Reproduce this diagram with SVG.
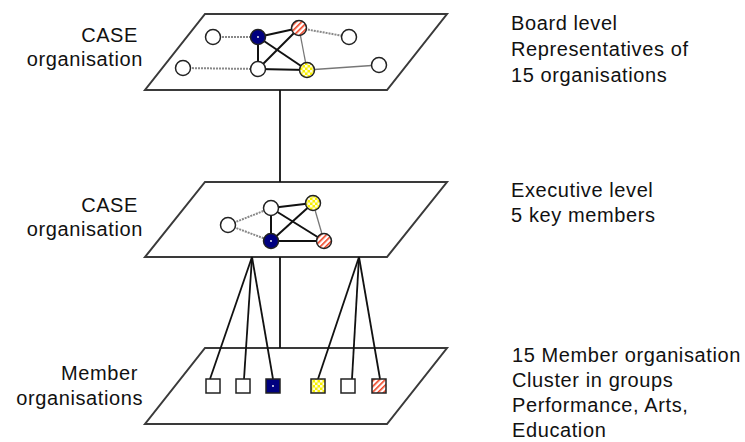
<svg xmlns="http://www.w3.org/2000/svg" width="745" height="442" viewBox="0 0 745 442">
<defs>
<pattern id="stripes" patternUnits="userSpaceOnUse" width="4" height="4" patternTransform="rotate(45)">
<rect width="4" height="4" fill="#fff"/>
<rect width="1.6" height="4" fill="#f04020"/>
</pattern>
<pattern id="checker" patternUnits="userSpaceOnUse" width="5" height="5">
<rect width="5" height="5" fill="#f8f000"/>
<rect width="2.5" height="2.5" fill="#fffce0"/>
<rect x="2.5" y="2.5" width="2.5" height="2.5" fill="#fffce0"/>
</pattern>
</defs>
<style>
.plane{fill:#fff;stroke:#3a3a3a;stroke-width:2;stroke-linejoin:miter}
.solid{stroke:#111;stroke-width:2;fill:none}
.thin{stroke:#777;stroke-width:1.3;fill:none}
.dot{stroke:#888;stroke-width:2;stroke-dasharray:2 1;fill:none}
.link{stroke:#111;stroke-width:1.8;fill:none}
.n{stroke:#222;stroke-width:1.5;fill:#fff}
.blue{fill:#000080}
.red{fill:url(#stripes)}
.yel{fill:url(#checker)}
.c{fill:#fff;stroke:none}
text{font-family:"Liberation Sans",Arial,sans-serif;font-size:20px;letter-spacing:0.6px;fill:#111}
.r{text-anchor:end}
</style>

<g id="plane-board"><polygon class="plane" points="205,14 447,14 387,90 145,90"/></g>
<g id="plane-executive"><polygon class="plane" points="205,182 447,182 387,257 145,257"/></g>
<g id="plane-members"><polygon class="plane" points="205,348 447,348 387,424 145,424"/></g>

<g id="connectors">
<line class="link" x1="280" y1="90" x2="280" y2="182"/>
<line class="link" x1="280" y1="257" x2="280" y2="348"/>
<line class="link" x1="252" y1="257" x2="210" y2="379"/>
<line class="link" x1="252" y1="257" x2="244" y2="379"/>
<line class="link" x1="252" y1="257" x2="273" y2="379"/>
<line class="link" x1="359" y1="257" x2="318" y2="379"/>
<line class="link" x1="359" y1="257" x2="352" y2="379"/>
<line class="link" x1="359" y1="257" x2="380" y2="379"/>
<!-- board network -->
<line class="dot" x1="213" y1="37" x2="258" y2="37"/>
<line class="solid" x1="258" y1="37" x2="299" y2="28"/>
<line class="solid" x1="258" y1="37" x2="258" y2="69"/>
<line class="solid" x1="258" y1="37" x2="307" y2="70"/>
<line class="solid" x1="299" y1="28" x2="258" y2="69"/>
<line class="thin" x1="299" y1="28" x2="307" y2="70"/>
<line class="dot" x1="299" y1="28" x2="349" y2="37"/>
<line class="dot" x1="183" y1="68" x2="258" y2="69"/>
<line class="solid" x1="258" y1="69" x2="307" y2="70"/>
<line class="thin" x1="307" y1="70" x2="379" y2="65"/>
<!-- executive network -->
<line class="dot" x1="228" y1="225" x2="271" y2="208"/>
<line class="dot" x1="228" y1="225" x2="271" y2="241"/>
<line class="solid" x1="271" y1="208" x2="271" y2="241"/>
<line class="solid" x1="271" y1="208" x2="313" y2="203"/>
<line class="solid" x1="271" y1="208" x2="324" y2="241"/>
<line class="solid" x1="271" y1="241" x2="313" y2="203"/>
<line class="solid" x1="271" y1="241" x2="324" y2="241"/>
<line class="thin" x1="313" y1="203" x2="324" y2="241"/>
</g>

<g id="board-nodes">
<circle id="b1" class="n" cx="213" cy="37" r="7.5"/>
<circle id="b2" class="n blue" cx="258" cy="37" r="7.5"/>
<circle class="c" cx="258" cy="37" r="0.9"/>
<circle id="b3" class="n red" cx="299" cy="28" r="7.5"/>
<circle id="b4" class="n" cx="349" cy="37" r="7.5"/>
<circle id="b5" class="n" cx="183" cy="68" r="7.5"/>
<circle id="b6" class="n" cx="258" cy="69" r="7.5"/>
<circle id="b7" class="n yel" cx="307" cy="70" r="7.5"/>
<circle id="b8" class="n" cx="379" cy="65" r="7.5"/>
</g>

<g id="executive-nodes">
<circle id="e1" class="n" cx="228" cy="225" r="7.5"/>
<circle id="e2" class="n" cx="271" cy="208" r="7.5"/>
<circle id="e3" class="n yel" cx="313" cy="203" r="7.5"/>
<circle id="e4" class="n blue" cx="271" cy="241" r="7.5"/>
<circle class="c" cx="271" cy="241" r="0.9"/>
<circle id="e5" class="n red" cx="324" cy="241" r="7.5"/>
</g>

<g id="member-nodes">
<rect id="m1" class="n" x="206" y="379" width="14" height="14"/>
<rect id="m2" class="n" x="236" y="379" width="14" height="14"/>
<rect id="m3" class="n blue" x="266" y="379" width="14" height="14"/>
<circle class="c" cx="273" cy="386" r="0.9"/>
<rect id="m4" class="n yel" x="311" y="379" width="14" height="14"/>
<rect id="m5" class="n" x="341" y="379" width="14" height="14"/>
<rect id="m6" class="n red" x="372" y="379" width="14" height="14"/>
</g>

<g id="labels-left">
<text class="r" x="138" y="42">CASE</text>
<text class="r" x="143" y="66">organisation</text>
<text class="r" x="138" y="212">CASE</text>
<text class="r" x="143" y="236">organisation</text>
<text class="r" x="138" y="380">Member</text>
<text class="r" x="143" y="405">organisations</text>
</g>

<g id="labels-right">
<text x="511" y="30">Board level</text>
<text x="511" y="56">Representatives of</text>
<text x="511" y="82">15 organisations</text>
<text x="511" y="197">Executive level</text>
<text x="511" y="222">5 key members</text>
<text x="512" y="362">15 Member organisation</text>
<text x="512" y="387">Cluster in groups</text>
<text x="512" y="412">Performance, Arts,</text>
<text x="512" y="437">Education</text>
</g>
</svg>
